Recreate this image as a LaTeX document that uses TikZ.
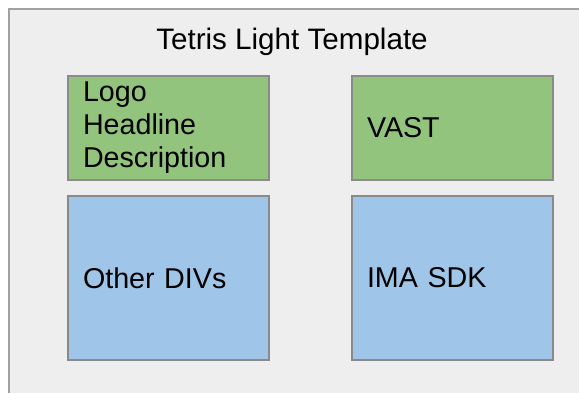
\documentclass[tikz,border=0pt]{standalone}
\usepackage{fontspec}
\setmainfont{Liberation Sans}
\usepackage{xcolor}
\definecolor{boxgreen}{HTML}{93C47D}
\definecolor{boxblue}{HTML}{9FC5E8}
\definecolor{panelgray}{HTML}{EEEEEE}
\definecolor{edgegray}{HTML}{8A8A8A}

\begin{document}
\begin{tikzpicture}[x=0.75pt,y=-0.75pt,
    block/.style={draw=edgegray, line width=1.2pt, rectangle,
        text width=128.25pt, inner xsep=11.25pt, inner ysep=0pt,
        align=left, font=\fontsize{21.5}{24.75}\selectfont},
    topblock/.style={block, fill=boxgreen, minimum height=78pt},
    lowblock/.style={block, fill=boxblue, minimum height=123pt}]
    % Cadre
    \clip (0,0) rectangle (579,393);
    \fill[panelgray] (9,9) rectangle (590,400);
    \draw[edgegray!80, line width=1.5pt] (9,400) -- (9,9) -- (590,9);

    % Titre
    \node (title) at (292,42) {\fontsize{22.2}{25}\selectfont Tetris Light Template};

    % Blocs du haut
    \node[topblock] (info) at (168.5,128) {Logo\\Headline\\Description};
    \node[topblock] (vast) at (452.5,128) {VAST};

    % Blocs du bas
    \node[lowblock] (divs) at (168.5,278) {Other DIVs};
    \node[lowblock] (imasdk) at (452.5,278) {IMA SDK};
\end{tikzpicture}
\end{document}
